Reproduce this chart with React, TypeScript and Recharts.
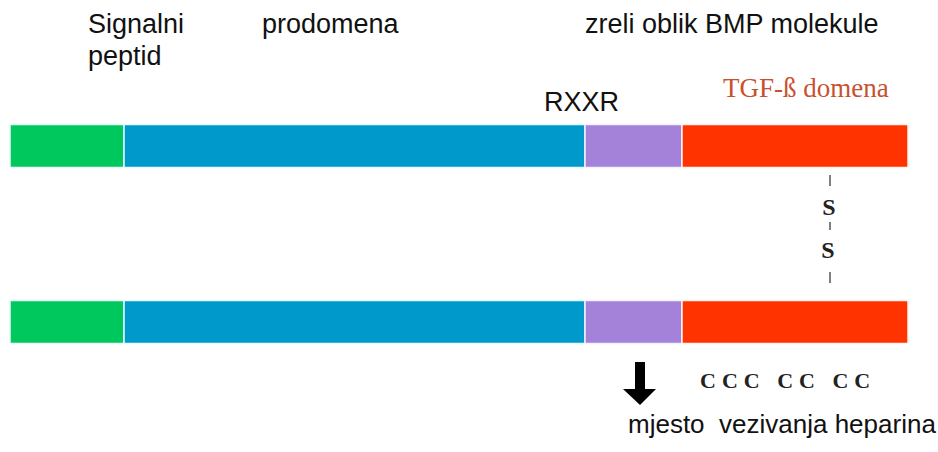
import { BarChart, Bar, XAxis, YAxis } from "recharts";

// two chains of the BMP precursor, segment lengths along the chain
const rows = ["lanac 1", "lanac 2"];
const signalni = [114, 114];
const prodomena = [461, 461];
const rxxr = [97, 97];
const tgf = [226, 226];

const data = rows.map((row, i) => ({
  row,
  signalni: signalni[i],
  prodomena: prodomena[i],
  rxxr: rxxr[i],
  tgf: tgf[i],
}));

const sans = "'Liberation Sans', Arial, sans-serif";
const serif = "'Liberation Serif', 'Times New Roman', serif";

export default function App() {
  return (
    <div style={{ position: "absolute", left: 0, top: 0, width: 938, height: 452, background: "#fff" }}>
      <BarChart
        width={938}
        height={452}
        data={data}
        layout="vertical"
        margin={{ top: 57.5, right: 30, bottom: 42.5, left: 10 }}
      >
        <XAxis type="number" domain={[0, 898]} hide />
        <YAxis type="category" dataKey="row" hide />
        <Bar dataKey="signalni" stackId="a" fill="#00c85c" stroke="#e8fbff" strokeWidth={1.5} barSize={43} isAnimationActive={false} />
        <Bar dataKey="prodomena" stackId="a" fill="#0099cc" stroke="#e8fbff" strokeWidth={1.5} barSize={43} isAnimationActive={false} />
        <Bar dataKey="rxxr" stackId="a" fill="#a582d9" stroke="#f4f0ff" strokeWidth={1.5} barSize={43} isAnimationActive={false} />
        <Bar dataKey="tgf" stackId="a" fill="#ff3300" stroke="#fff4ec" strokeWidth={1.5} barSize={43} isAnimationActive={false} />
      </BarChart>

      <svg width={938} height={452} style={{ position: "absolute", left: 0, top: 0, pointerEvents: "none" }}>
        <g fontFamily={sans} fontSize={27} fill="#111">
          <text x={88} y={33}>Signalni</text>
          <text x={88} y={65}>peptid</text>
          <text x={262} y={33}>prodomena</text>
          <text x={585} y={33}>zreli oblik BMP molekule</text>
          <text x={544} y={111}>RXXR</text>
        </g>
        <text x={723} y={97} fontFamily={serif} fontSize={27} fill="#c8502f">TGF-ß domena</text>

        <g stroke="#555" strokeWidth={1.5}>
          <line x1={830} y1={175} x2={830} y2={186} />
          <line x1={830} y1={222} x2={830} y2={230} />
          <line x1={830} y1={272} x2={830} y2={283} />
        </g>
        <g fontFamily={serif} fontSize={24} fontWeight="bold" fill="#222" textAnchor="middle">
          <text x={829} y={215}>S</text>
          <text x={828} y={258}>S</text>
        </g>

        <rect x={635} y={362} width={10} height={28} fill="#000" />
        <polygon points="623,389 656,389 640,405" fill="#000" />

        <text x={700} y={388} fontFamily={serif} fontSize={22} fontWeight="bold" fill="#222" letterSpacing={6} style={{ whiteSpace: "pre" }}>
          CCC CC CC
        </text>
        <text x={628} y={433} fontFamily={sans} fontSize={26} fill="#111" style={{ whiteSpace: "pre" }}>
          mjesto  vezivanja heparina
        </text>
      </svg>
    </div>
  );
}
